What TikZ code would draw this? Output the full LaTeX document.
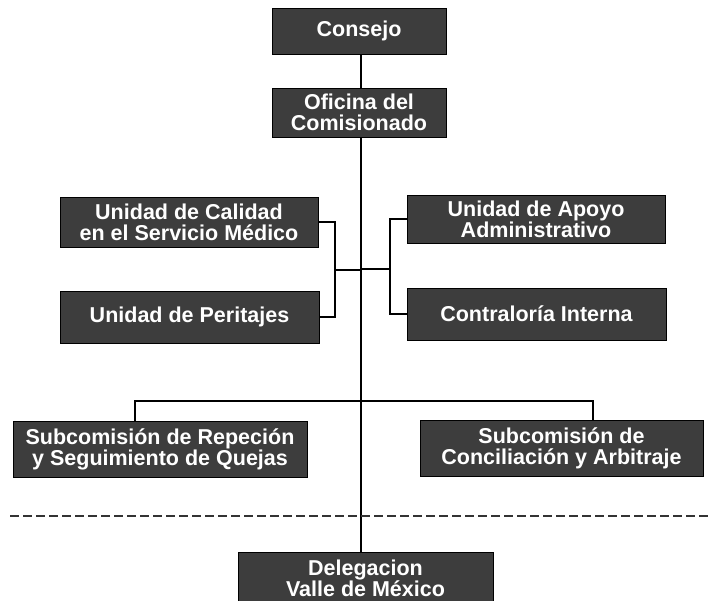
\documentclass[tikz,border=0pt]{standalone}
\usepackage{fontspec}
\setmainfont{Liberation Sans}
\begin{document}
\begin{tikzpicture}[x=1pt,y=-1pt,
  orgbox/.style={draw=black, line width=1pt, fill=black!76, text=white,
    font=\bfseries\fontsize{21.5}{21}\selectfont, align=center, inner sep=0pt,
    rectangle},
  link/.style={draw=black, line width=1.6pt},
  sep/.style={draw=black!80, line width=1.2pt, dash pattern=on 9pt off 4pt}]
\useasboundingbox (0,0) rectangle (709,600);
\node[orgbox, minimum width=174pt, minimum height=46pt] (consejo) at (359,31) {Consejo};
\node[orgbox, minimum width=174pt, minimum height=49pt] (oficina) at (359,112.5) {Oficina del\\Comisionado};
\node[orgbox, minimum width=258pt, minimum height=50pt] (calidad) at (189,222) {Unidad de Calidad\\en el Servicio Médico};
\node[orgbox, minimum width=259pt, minimum height=52pt] (peritajes) at (189.5,317) {Unidad de Peritajes};
\node[orgbox, minimum width=258pt, minimum height=48pt] (apoyo) at (536,219) {Unidad de Apoyo\\Administrativo};
\node[orgbox, minimum width=259pt, minimum height=52pt] (contraloria) at (536.5,314) {Contraloría Interna};
\node[orgbox, minimum width=294pt, minimum height=56pt] (repecion) at (160,449) {Subcomisión de Repeción\\y Seguimiento de Quejas};
\node[orgbox, minimum width=283pt, minimum height=56pt] (conciliacion) at (561.5,448) {Subcomisión de\\Conciliación y Arbitraje};
\node[orgbox, minimum width=255pt, minimum height=52pt] (delegacion) at (365.5,578) {Delegacion\\Valle de México};
% spine
\coordinate (lj) at (361,270);
\draw[link] (consejo.south -| 361,0) -- (oficina.north -| 361,0);
\draw[link] (oficina.south -| 361,0) -- (delegacion.north -| 361,0);
% left bracket
\coordinate (lb) at (335,270);
\draw[link] (calidad.east) -- (calidad.east -| lb) -- (peritajes.east -| lb) -- (peritajes.east);
\draw[link] (lb) -- (lj);
% right bracket
\coordinate (rb) at (390,269);
\coordinate (rj) at (361,269);
\draw[link] (apoyo.west) -- (apoyo.west -| rb) -- (contraloria.west -| rb) -- (contraloria.west);
\draw[link] (rb) -- (rj);
% subcommissions
\coordinate (sl) at (135,401);
\coordinate (sr) at (593,401);
\draw[link] (repecion.north -| sl) -- (sl) -- (sr) -- (conciliacion.north -| sr);
% dashed separator
\coordinate (d1) at (10,516);
\coordinate (d2) at (709,516);
\draw[sep] (d1) -- (d2);
\end{tikzpicture}
\end{document}
